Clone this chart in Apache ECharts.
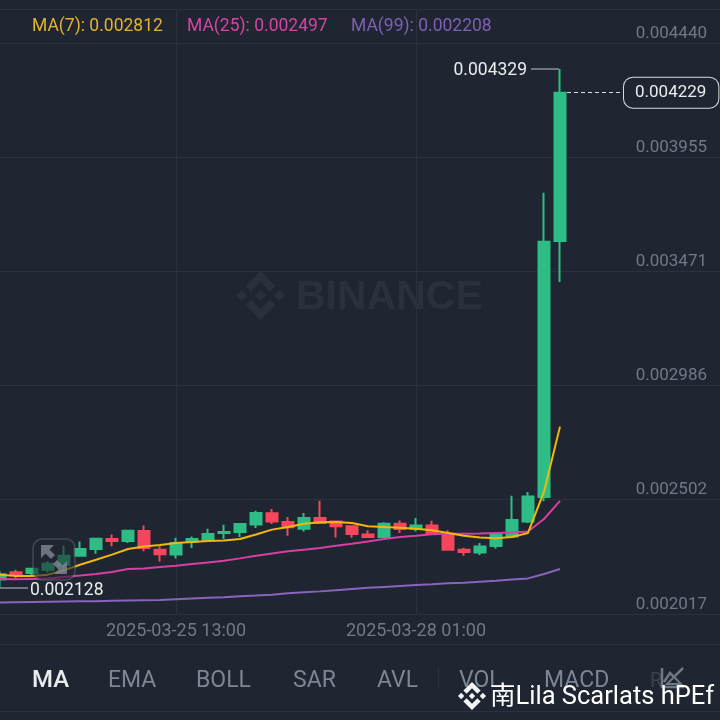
<!DOCTYPE html>
<html>
<head>
<meta charset="utf-8">
<style>html,body{margin:0;padding:0;background:#1f2631}#c{width:720px;height:720px}</style>
<script src="https://cdn.jsdelivr.net/npm/echarts@6/dist/echarts.min.js"></script>
</head>
<body>
<div id="c"></div>
<script>
const categories = ["2025-03-23 17:00","2025-03-23 21:00","2025-03-24 01:00","2025-03-24 05:00","2025-03-24 09:00","2025-03-24 13:00","2025-03-24 17:00","2025-03-24 21:00","2025-03-25 01:00","2025-03-25 05:00","2025-03-25 09:00","2025-03-25 13:00","2025-03-25 17:00","2025-03-25 21:00","2025-03-26 01:00","2025-03-26 05:00","2025-03-26 09:00","2025-03-26 13:00","2025-03-26 17:00","2025-03-26 21:00","2025-03-27 01:00","2025-03-27 05:00","2025-03-27 09:00","2025-03-27 13:00","2025-03-27 17:00","2025-03-27 21:00","2025-03-28 01:00","2025-03-28 05:00","2025-03-28 09:00","2025-03-28 13:00","2025-03-28 17:00","2025-03-28 21:00","2025-03-29 01:00","2025-03-29 05:00","2025-03-29 09:00","2025-03-29 13:00","2025-03-29 17:00","2025-03-29 21:00","2025-03-30 01:00","2025-03-30 05:00","2025-03-30 09:00","2025-03-30 13:00","2025-03-30 17:00","2025-03-30 21:00","2025-03-31 01:00","2025-03-31 05:00"];
const xTickLabels = ["2025-03-25 13:00","2025-03-28 01:00"];
const yTickLabels = ["0.002017","0.002502","0.002986","0.003471","0.003955","0.004440"];
const yTop = 0.004584;

const opens  = [0.002163,0.002194,0.002191,0.002205,0.002226,0.002264,0.002293,0.002335,0.002327,0.002369,0.002290,0.002269,0.002325,0.002332,0.002361,0.002365,0.002397,0.002444,0.002407,0.002379,0.002424,0.002410,0.002389,0.002354,0.002344,0.002400,0.002379,0.002392,0.002358,0.002290,0.002278,0.002306,0.002346,0.002410,0.002513,0.003600];
const closes = [0.002186,0.002186,0.002209,0.002230,0.002264,0.002293,0.002336,0.002327,0.002370,0.002297,0.002270,0.002318,0.002335,0.002356,0.002365,0.002399,0.002446,0.002409,0.002385,0.002424,0.002403,0.002389,0.002356,0.002344,0.002400,0.002378,0.002392,0.002361,0.002290,0.002280,0.002303,0.002354,0.002416,0.002516,0.003596,0.004229];
const lows   = [0.002128,0.002168,0.002177,0.002192,0.002198,0.002262,0.002273,0.002304,0.002318,0.002283,0.002240,0.002252,0.002297,0.002325,0.002335,0.002344,0.002382,0.002399,0.002349,0.002367,0.002402,0.002342,0.002340,0.002340,0.002338,0.002361,0.002367,0.002354,0.002287,0.002264,0.002267,0.002294,0.002344,0.002403,0.002495,0.003426];
const highs  = [0.002201,0.002205,0.002211,0.002241,0.002308,0.002325,0.002340,0.002354,0.002372,0.002392,0.002304,0.002341,0.002346,0.002379,0.002396,0.002400,0.002455,0.002462,0.002429,0.002446,0.002498,0.002411,0.002390,0.002372,0.002406,0.002414,0.002424,0.002413,0.002372,0.002298,0.002318,0.002355,0.002519,0.002535,0.003804,0.004329];

const ma7  = [0.002184,0.002178,0.002178,0.002184,0.002202,0.002226,0.002247,0.002269,0.002293,0.002303,0.002310,0.002318,0.002322,0.002327,0.002329,0.002335,0.002354,0.002375,0.002386,0.002400,0.002406,0.002407,0.002403,0.002389,0.002386,0.002383,0.002379,0.002372,0.002361,0.002349,0.002342,0.002338,0.002344,0.002361,0.002536,0.002812];
const ma25 = [0.002166,0.002164,0.002166,0.002168,0.002174,0.002180,0.002187,0.002195,0.002208,0.002210,0.002216,0.002222,0.002229,0.002236,0.002243,0.002253,0.002264,0.002274,0.002283,0.002290,0.002297,0.002307,0.002315,0.002325,0.002335,0.002344,0.002349,0.002355,0.002358,0.002358,0.002359,0.002361,0.002363,0.002367,0.002420,0.002497];
const ma99 = [0.002066,0.002067,0.002068,0.002069,0.002070,0.002071,0.002071,0.002073,0.002074,0.002075,0.002076,0.002080,0.002083,0.002086,0.002088,0.002092,0.002095,0.002099,0.002105,0.002109,0.002113,0.002118,0.002123,0.002128,0.002132,0.002136,0.002140,0.002143,0.002147,0.002150,0.002154,0.002158,0.002163,0.002168,0.002187,0.002208];

const legendTexts = ["MA(7): 0.002812","MA(25): 0.002497","MA(99): 0.002208"];
const tabs = ["MA","EMA","BOLL","SAR","AVL","VOL","MACD"];
const highPrice = 0.004329, lowPrice = 0.002128, lastPrice = 0.004229;

const BG = '#1f2631', GRID = '#2b323e', AXIS = '#6f7a88', TAB = '#7d8694', FONT = 'Roboto';
const LOGO = [
  [[38.73,53.2],[63.3,28.63],[87.89,53.22],[102.19,38.92],[63.3,0],[24.42,38.89]],
  [[0,63.31],[14.3,49.01],[28.6,63.31],[14.3,77.61]],
  [[38.73,73.41],[63.3,97.99],[87.89,73.4],[102.2,87.69],[63.3,126.6],[24.42,87.71]],
  [[97.99,63.31],[112.29,49.01],[126.59,63.31],[112.29,77.61]],
  [[77.62,63.3],[63.3,48.99],[48.99,63.3],[63.3,77.61]]
];
const yTicks = yTickLabels.map(Number).concat([yTop]);

function logo(x, y, size, fill, z) {
  const k = size / 126.6;
  return LOGO.map(p => ({type:'polygon', z, silent:true,
    shape:{points:p.map(q => [x + q[0]*k, y + q[1]*k])}, style:{fill}}));
}
function txt(x, y, text, fill, size, weight, z) {
  return {type:'text', x, y, z: z || 20, silent:true,
    style:{text, fill, font:(weight||'normal')+' '+size+'px '+FONT, textVerticalAlign:'middle'}};
}
const tabX = [32,108,196,293,377,459,544];
const legendX = [32,187,351], legendC = ['#e3b22e','#d545a5','#7f5fb4'];

const graphic = [
  ...logo(236, 271, 49, '#2a313d', 0),
  {type:'text', z:0, silent:true, x:296, y:298, style:{text:'BINANCE', fill:'#2a313d', font:'bold 41px "Liberation Sans"', textVerticalAlign:'middle'}},
  {type:'rect', z:1, silent:true, shape:{x:0,y:644,width:720,height:1}, style:{fill:GRID}},
  {type:'rect', z:1, silent:true, shape:{x:0,y:711,width:720,height:1}, style:{fill:GRID}},
  {type:'rect', z:1, silent:true, shape:{x:438,y:667,width:1,height:22}, style:{fill:GRID}},
  {type:'rect', z:20, silent:true, shape:{x:33,y:539,width:42,height:41,r:9}, style:{fill:'rgba(31,38,49,0.6)', stroke:'rgba(120,128,140,0.4)', lineWidth:1.5}},
  {type:'polygon', z:21, silent:true, shape:{points:[[41,545],[54,545],[49.5,549.5],[55,555],[51,559],[45.5,553.5],[41,558]]}, style:{fill:'rgba(135,143,155,0.75)'}},
  {type:'polygon', z:21, silent:true, shape:{points:[[67,574],[54,574],[58.5,569.5],[53,564],[57,560],[62.5,565.5],[67,561]]}, style:{fill:'rgba(135,143,155,0.75)'}},
  {type:'polyline', z:21, silent:true, shape:{points:[[662,668],[662,687],[684,687]]}, style:{fill:'none', stroke:'#6f7885', lineWidth:2.5}},
  {type:'polyline', z:21, silent:true, shape:{points:[[664,682],[670,673],[674,677],[683,668]]}, style:{fill:'none', stroke:'#6f7885', lineWidth:2.5}},
  {type:'polygon', z:21, silent:true, shape:{points:[[667,684],[674,677],[681,684]]}, style:{fill:'none', stroke:'#6f7885', lineWidth:2}},
  {type:'text', z:20, silent:true, x:650, y:682, style:{text:'R', fill:'#3a424e', font:'20px '+FONT, textVerticalAlign:'middle'}},
  ...logo(458, 682, 28, '#f2f3f5', 22),
  {type:'text', z:22, silent:true, x:490, y:698, style:{text:'南Lila Scarlats hPEf', fill:'#ffffff', font:'25.5px Roboto, "Noto Sans CJK SC"', textVerticalAlign:'middle'}}
];
legendTexts.forEach((t,i)=>graphic.push(txt(legendX[i],27,t,legendC[i],17.5)));
tabs.forEach((t,i)=>graphic.push(txt(tabX[i],681,t,i===0?'#eaecef':TAB,i===0?24:23,i===0?'500':'normal')));

const chart = echarts.init(document.getElementById('c'));
const xIdx = xTickLabels.map(l=>categories.indexOf(l));
const onTick = (i)=>xIdx.includes(i);
chart.setOption({
  animation:false,
  backgroundColor:BG,
  graphic,
  grid:{left:-8,right:-8,top:9,bottom:106,containLabel:false,outerBoundsMode:'none'},
  xAxis:{type:'category',data:categories,boundaryGap:true,
    axisLine:{show:true,lineStyle:{color:GRID,width:1}},
    axisTick:{show:false,alignWithLabel:true},
    axisLabel:{interval:onTick,color:AXIS,fontFamily:FONT,fontSize:18,margin:8},
    splitLine:{show:true,interval:onTick,alignWithLabel:true,lineStyle:{color:GRID,width:1}}},
  yAxis:{type:'value',position:'right',min:0.002017,max:yTop,scale:true,
    axisLine:{show:false},
    axisTick:{show:false,customValues:yTicks},
    axisLabel:{inside:true,customValues:yTicks,margin:21,color:AXIS,fontFamily:FONT,fontSize:17,
      verticalAlign:'bottom',padding:[0,0,1,0],showMinLabel:true,showMaxLabel:true,hideOverlap:false,
      formatter:v=>{const s=v.toFixed(6);return yTickLabels.includes(s)?s:'';}},
    splitLine:{show:true,lineStyle:{color:GRID,width:1}}},
  series:[
    {type:'candlestick',name:'Price',barWidth:12,z:5,
      data:opens.map((o,i)=>[o,closes[i],lows[i],highs[i]]),
      itemStyle:{color:'#2ebd85',color0:'#f6465d',borderColor:'#2ebd85',borderColor0:'#f6465d',borderWidth:2},
      markLine:{silent:true,symbol:'none',animation:false,
        data:[
          [{x:531,yAxis:highPrice,lineStyle:{color:'#8a9099',type:'solid',width:1.5},label:{show:true,position:'start',distance:4,offset:[0,2],formatter:highPrice.toFixed(6),color:'#eaecef',fontFamily:FONT,fontSize:17.5}},{x:559,yAxis:highPrice}],
          [{x:0,yAxis:lowPrice,lineStyle:{color:'#8a9099',type:'solid',width:1.5},label:{show:true,position:'end',distance:2,offset:[0,3],formatter:lowPrice.toFixed(6),color:'#eaecef',fontFamily:FONT,fontSize:17.5}},{x:28,yAxis:lowPrice}],
          [{x:567,yAxis:lastPrice,lineStyle:{color:'#d8dbe0',type:[4,3],width:1},label:{show:true,position:'end',distance:0,formatter:lastPrice.toFixed(6),color:'#eaecef',fontFamily:FONT,fontSize:17,backgroundColor:BG,borderColor:'#d8dbe0',borderWidth:1,borderRadius:9,padding:[9,12,4,11]}},{x:624,yAxis:lastPrice}]
        ]}},
    {type:'line',name:'MA(99)',data:ma99,showSymbol:false,symbol:'none',z:6,lineStyle:{color:'#8a63bd',width:2}},
    {type:'line',name:'MA(25)',data:ma25,showSymbol:false,symbol:'none',z:7,lineStyle:{color:'#d63fa3',width:2}},
    {type:'line',name:'MA(7)',data:ma7,showSymbol:false,symbol:'none',z:8,lineStyle:{color:'#f0b90b',width:2}}
  ]
});
</script>
</body>
</html>
